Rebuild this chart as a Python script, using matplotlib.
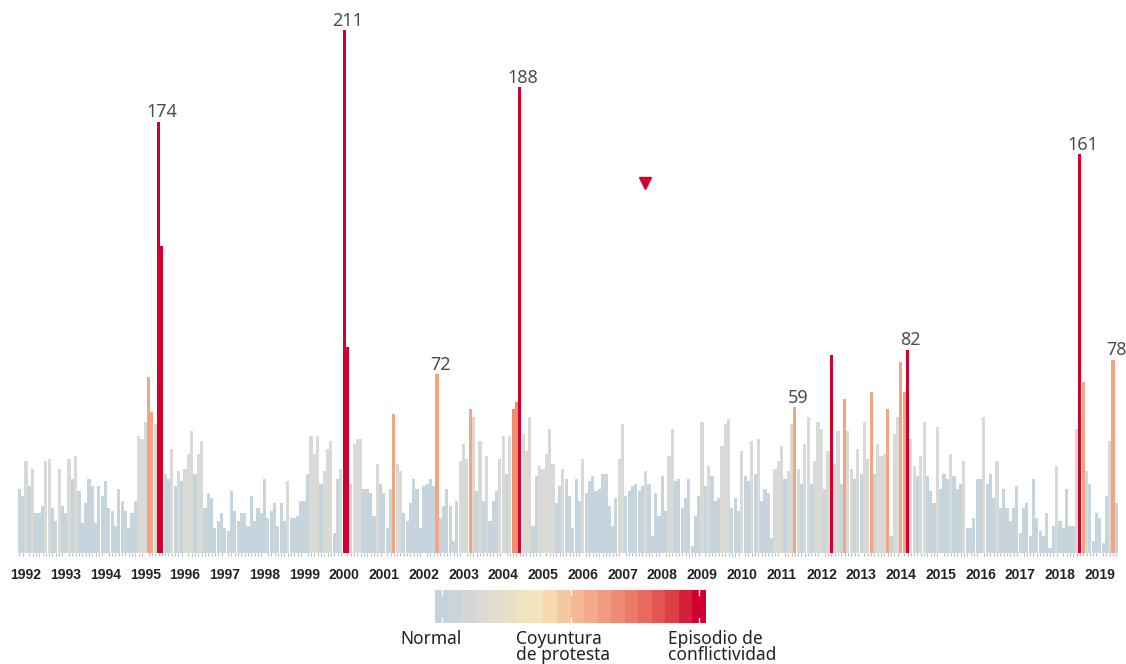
import numpy as np
import matplotlib
matplotlib.use('Agg')
import matplotlib.pyplot as plt

# monthly counts 1992-01 .. 2019-08, one list per year
years = list(range(1992, 2020))
vals = [
    [26, 23, 37, 27, 34, 16, 16, 19, 37, 38, 18, 13],    # 1992
    [34, 19, 16, 38, 30, 39, 25, 12, 20, 30, 27, 12],    # 1993
    [27, 23, 29, 18, 17, 11, 26, 21, 17, 10, 16, 21],    # 1994
    [47, 46, 53, 71, 57, 52, 174, 124, 32, 30, 42, 27],  # 1995
    [33, 29, 34, 40, 49, 32, 40, 45, 18, 24, 22, 10],    # 1996
    [13, 16, 10, 9, 25, 17, 13, 16, 16, 11, 23, 13],     # 1997
    [18, 16, 30, 14, 17, 20, 11, 20, 13, 29, 14, 14],    # 1998
    [15, 21, 21, 32, 47, 40, 47, 28, 33, 42, 45, 8],     # 1999
    [30, 34, 211, 83, 28, 44, 46, 46, 26, 26, 24, 15],   # 2000
    [36, 28, 24, 10, 26, 56, 36, 33, 16, 13, 20, 30],    # 2001
    [26, 10, 27, 28, 30, 27, 72, 14, 19, 26, 19, 5],     # 2002
    [21, 37, 44, 38, 58, 55, 25, 45, 21, 39, 13, 21],    # 2003
    [25, 38, 47, 32, 47, 58, 61, 188, 48, 41, 55, 11],   # 2004
    [31, 35, 34, 40, 50, 36, 20, 27, 34, 30, 23, 10],    # 2005
    [30, 21, 38, 24, 29, 31, 25, 26, 32, 32, 19, 11],    # 2006
    [22, 38, 52, 23, 25, 27, 28, 25, 27, 33, 28, 7],     # 2007
    [24, 15, 31, 17, 39, 50, 29, 30, 18, 22, 30, 3],     # 2008
    [15, 23, 53, 27, 35, 31, 21, 22, 43, 52, 54, 18],    # 2009
    [22, 17, 41, 31, 29, 45, 32, 46, 21, 26, 24, 6],     # 2010
    [34, 37, 43, 30, 33, 52, 59, 34, 28, 44, 55, 28],    # 2011
    [37, 53, 50, 26, 41, 80, 36, 49, 28, 62, 49, 34],    # 2012
    [30, 42, 32, 53, 38, 65, 32, 44, 39, 40, 58, 7],     # 2013
    [48, 55, 77, 65, 82, 46, 35, 31, 39, 53, 31, 25],    # 2014
    [20, 51, 26, 32, 30, 40, 31, 26, 28, 37, 10, 10],    # 2015
    [14, 30, 30, 55, 28, 32, 22, 37, 18, 26, 18, 13],    # 2016
    [18, 27, 8, 18, 20, 7, 30, 14, 9, 7, 16, 2],         # 2017
    [11, 35, 13, 10, 26, 11, 11, 50, 161, 69, 33, 28],   # 2018
    [5, 16, 14, 4, 23, 45, 78, 20],                      # 2019
]
# level per month: b normal, g elevated, o protest, d strong protest, r conflict episode
levels = [
    'bbgbgbbbggbb', 'gbbgbgbbbbbb', 'bbbbbbbbbbbb', 'gggoogrrbbgb',
    'gbgggbggbbbb', 'bbbbbbbbbbbb', 'bbbbbbbbbgbb', 'bbbbgggbgggb',
    'bgrrbgggbbbb', 'gbbbboggbbbb', 'bbbbbbobbbbb', 'bgggogbgbgbb',
    'bggbgddrgggb', 'bgggggbbgbbb', 'bbgbbbbbbbbb', 'bggbbbbbbgbb',
    'bbbbggbbbbbb', 'bbgbgbbbgggb', 'bbgbbgbgbbbb', 'gggbggogbggb',
    'gggbgrggbogg', 'bgbggobgggob', 'ggoorggbggbb', 'bgbbbgbbbgbb',
    'bbbgbbbgbbbb', 'bbbbbbbbbbbb', 'bgbbbbbgrogb', 'bbbbbgob',
]
labelled = [174, 211, 188, 72, 59, 82, 161, 78]

legend_colors = ['#c5d4dc', '#cbd5d9', '#d3d8d7', '#dbdbd4', '#e2ddcf', '#e9dfc8',
                 '#efe3c2', '#f5e6bf', '#f7d8af', '#f6c8a1', '#f5b895', '#f3a98a',
                 '#f09a7f', '#ee8b74', '#eb7b69', '#e76b5d', '#e15552', '#db3e46',
                 '#d6203a', '#d0002f']
legend_names = ['Normal', 'Coyuntura\nde protesta', 'Episodio de\nconflictividad']

#%%
pal = {'b': '#c6d5dd', 'g': '#d9d9d5', 'o': '#f4a383', 'd': '#ef8d6c', 'r': '#d3002e'}

y = np.concatenate([np.array(v) for v in vals])
lev = ''.join(levels)
x = np.arange(len(y))
colors = [pal[c] for c in lev]

fig = plt.figure(figsize=(11.26, 6.64), dpi=100)
ax = fig.add_axes([17.7 / 1126, 111 / 664, 1100.3 / 1126, 553 / 664])
ax.bar(x, y, width=0.95, color=colors, linewidth=0)
ax.set_xlim(-0.5, len(y) - 0.5)
ax.set_ylim(0, 223)
for s in ax.spines.values():
    s.set_visible(False)
ax.set_yticks([])

ax.set_xticks(x, minor=True)
ax.tick_params(axis='x', which='minor', length=2.5, width=0.8, color='#bbbbbb')
ax.set_xticks([12 * k + 2 for k in range(len(years))])
ax.set_xticklabels([str(yr) for yr in years], fontsize=10, fontweight='bold',
                   family='Liberation Sans', color='#222222')
ax.tick_params(axis='x', which='major', length=0, pad=11)

# values on the peaks
for i in range(len(y)):
    if y[i] in labelled and lev[i] in 'or':
        ax.annotate(str(y[i]), (x[i] + 1, y[i]), xytext=(0, 3), textcoords='offset points',
                    ha='center', va='baseline', fontsize=13, color='#4d4d4d',
                    family='Noto Sans', annotation_clip=False)

# marker
fig.lines.append(plt.Line2D([645 / 1126], [1 - 183 / 664], marker='v', markersize=9,
                            color='#d3002e', linestyle='none', transform=fig.transFigure))

#%% colour key
lax = fig.add_axes([435 / 1126, 41 / 664, 271 / 1126, 33 / 664])
lax.bar(np.arange(len(legend_colors)), 1, width=1.0, color=legend_colors, linewidth=0)
lax.set_xlim(-0.5, len(legend_colors) - 0.5)
lax.set_ylim(0, 1)
lax.axis('off')
for p in (0, 9.5, 19):
    lax.plot([p, p], [0, 0.15], color='white', lw=1)
    lax.plot([p, p], [0.85, 1], color='white', lw=1)

for xpos, name in zip((400, 516, 668), legend_names):
    for j, line in enumerate(name.split('\n')):
        fig.text(xpos / 1126, (664 - 644 - 16 * j) / 664, line, fontsize=12.5,
                 family='Noto Sans', color='#222222', va='baseline', ha='left')

plt.savefig('out.png', dpi=100)
